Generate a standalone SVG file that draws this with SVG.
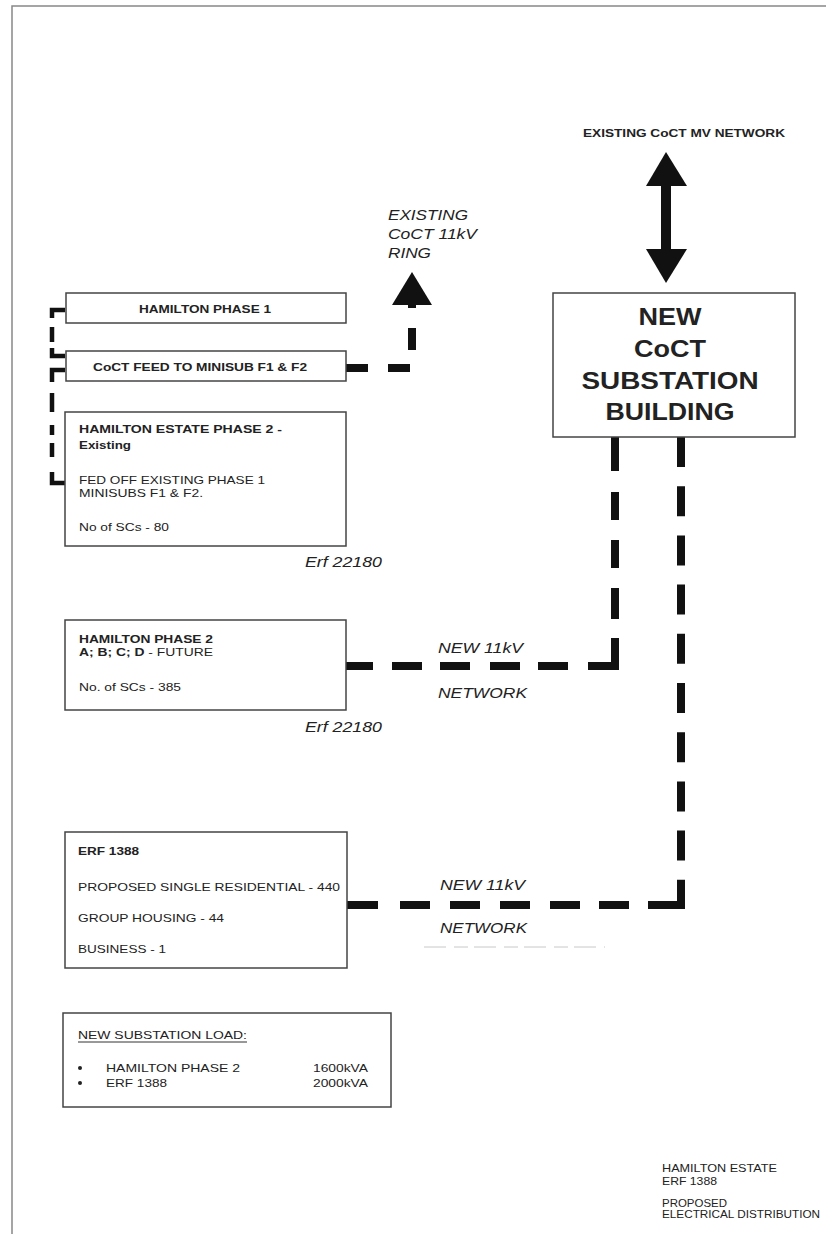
<svg xmlns="http://www.w3.org/2000/svg" width="826" height="1234" viewBox="0 0 826 1234">
<style>
.page{fill:none;stroke:#888;stroke-width:1.5}
.box{fill:#fff;stroke:#444;stroke-width:1.5}
.t{font-family:"Liberation Sans",Arial,sans-serif;fill:#222}
.b{font-weight:bold;font-size:11.5px}
.r{font-size:11.5px}
.i{font-style:italic;font-size:15px}
.big{font-weight:bold;font-size:24px;text-anchor:middle}
.sm{font-size:10.5px}
.thick{fill:none;stroke:#111;stroke-width:8}
.thin{fill:none;stroke:#111;stroke-width:4.5}
.solid{fill:#111}
</style>
<rect width="826" height="1234" fill="#fff"/>
<g id="page-border">
<path class="page" d="M12,1234 V6 H826"/>
</g>
<g id="connectors">
<path class="thin" d="M65,310 H52 V356 H65" stroke-dasharray="21 9 15 6 40"/>
<path class="thin" d="M65,370 H52 V483 H65" stroke-dasharray="25 11 19 13 10 8 14 15 40"/>
<path class="thick" d="M346,368 H412 V305" stroke-dasharray="22 20"/>
<polygon class="solid" points="412,272 392,305 432,305"/>
<polygon class="solid" points="666,152 646,186 687,186"/>
<rect class="solid" x="661" y="185" width="10" height="65"/>
<polygon class="solid" points="646,249 687,249 666,283"/>
<path class="thick" d="M346,666 H619" stroke-dasharray="27 19 30 18 30 20 30 18 30 20 31 100"/>
<path class="thick" d="M615,670 V437" stroke-dasharray="32 19 31 20 28 20 28 21 34 100"/>
<path class="thick" d="M681,437 V909" stroke-dasharray="30 19.2"/>
<path class="thick" d="M346,905 H685" stroke-dasharray="32 22 30 20 30 20 30 20 30 19 30 19 37 100"/>
<path d="M424,947 H605" fill="none" stroke="#c8c8c8" stroke-width="1" stroke-dasharray="22 8 14 6"/>
</g>
<g id="mv-network-label">
<text class="t b" x="583" y="137" font-size="12.5" textLength="202" lengthAdjust="spacingAndGlyphs">EXISTING CoCT MV NETWORK</text>
</g>
<g id="ring-label">
<text class="t i" x="388" y="220" textLength="80" lengthAdjust="spacingAndGlyphs">EXISTING</text>
<text class="t i" x="388" y="239" textLength="89" lengthAdjust="spacingAndGlyphs">CoCT 11kV</text>
<text class="t i" x="388" y="258" textLength="43" lengthAdjust="spacingAndGlyphs">RING</text>
</g>
<g id="substation">
<rect class="box" x="553" y="293" width="242" height="144"/>
<text class="t big" x="670" y="325" textLength="63" lengthAdjust="spacingAndGlyphs">NEW</text>
<text class="t big" x="670" y="357" textLength="72" lengthAdjust="spacingAndGlyphs">CoCT</text>
<text class="t big" x="670" y="389" textLength="177" lengthAdjust="spacingAndGlyphs">SUBSTATION</text>
<text class="t big" x="670" y="420" textLength="129" lengthAdjust="spacingAndGlyphs">BUILDING</text>
</g>
<g id="hamilton-phase-1">
<rect class="box" x="66" y="293" width="280" height="30"/>
<text class="t b" x="139" y="313" textLength="132" lengthAdjust="spacingAndGlyphs">HAMILTON PHASE 1</text>
</g>
<g id="coct-feed">
<rect class="box" x="66" y="351" width="280" height="30"/>
<text class="t b" x="93" y="371" textLength="214" lengthAdjust="spacingAndGlyphs">CoCT FEED TO MINISUB F1 &amp; F2</text>
</g>
<g id="hamilton-estate-phase-2">
<rect class="box" x="65" y="412" width="281" height="134"/>
<text class="t b" x="79" y="433" textLength="203" lengthAdjust="spacingAndGlyphs">HAMILTON ESTATE PHASE 2 -</text>
<text class="t b" x="79" y="449" textLength="52" lengthAdjust="spacingAndGlyphs">Existing</text>
<text class="t r" x="79" y="484" textLength="186" lengthAdjust="spacingAndGlyphs">FED OFF EXISTING PHASE 1</text>
<text class="t r" x="79" y="497" textLength="124" lengthAdjust="spacingAndGlyphs">MINISUBS F1 &amp; F2.</text>
<text class="t r" x="79" y="531" textLength="90" lengthAdjust="spacingAndGlyphs">No of SCs - 80</text>
<text class="t i" x="305" y="567" font-size="14" textLength="77" lengthAdjust="spacingAndGlyphs">Erf 22180</text>
</g>
<g id="hamilton-phase-2">
<rect class="box" x="65" y="620" width="281" height="90"/>
<text class="t b" x="79" y="643" textLength="134" lengthAdjust="spacingAndGlyphs">HAMILTON PHASE 2</text>
<text class="t r" x="79" y="656" textLength="134" lengthAdjust="spacingAndGlyphs"><tspan font-weight="bold">A; B; C; D</tspan> - FUTURE</text>
<text class="t r" x="79" y="691" textLength="102" lengthAdjust="spacingAndGlyphs">No. of SCs - 385</text>
<text class="t i" x="305" y="732" font-size="14" textLength="77" lengthAdjust="spacingAndGlyphs">Erf 22180</text>
</g>
<g id="network-label-1">
<text class="t i" x="438" y="653" textLength="85" lengthAdjust="spacingAndGlyphs">NEW 11kV</text>
<text class="t i" x="438" y="698" textLength="89" lengthAdjust="spacingAndGlyphs">NETWORK</text>
</g>
<g id="erf-1388">
<rect class="box" x="65" y="832" width="282" height="136"/>
<text class="t b" x="78" y="855" textLength="61" lengthAdjust="spacingAndGlyphs">ERF 1388</text>
<text class="t r" x="78" y="891" textLength="262" lengthAdjust="spacingAndGlyphs">PROPOSED SINGLE RESIDENTIAL - 440</text>
<text class="t r" x="78" y="922" textLength="146" lengthAdjust="spacingAndGlyphs">GROUP HOUSING - 44</text>
<text class="t r" x="78" y="953" textLength="88" lengthAdjust="spacingAndGlyphs">BUSINESS - 1</text>
</g>
<g id="network-label-2">
<text class="t i" x="440" y="890" textLength="85" lengthAdjust="spacingAndGlyphs">NEW 11kV</text>
<text class="t i" x="440" y="933" textLength="87" lengthAdjust="spacingAndGlyphs">NETWORK</text>
</g>
<g id="substation-load">
<rect class="box" x="63" y="1013" width="328" height="94"/>
<text class="t r" x="78" y="1039" textLength="169" lengthAdjust="spacingAndGlyphs">NEW SUBSTATION LOAD:</text>
<line x1="78" y1="1042" x2="247" y2="1042" stroke="#333" stroke-width="1"/>
<circle cx="80" cy="1068" r="2" fill="#222"/>
<circle cx="80" cy="1083" r="2" fill="#222"/>
<text class="t r" x="106" y="1072" textLength="134" lengthAdjust="spacingAndGlyphs">HAMILTON PHASE 2</text>
<text class="t r" x="106" y="1087" textLength="61" lengthAdjust="spacingAndGlyphs">ERF 1388</text>
<text class="t r" x="313" y="1072" textLength="55" lengthAdjust="spacingAndGlyphs">1600kVA</text>
<text class="t r" x="313" y="1087" textLength="55" lengthAdjust="spacingAndGlyphs">2000kVA</text>
</g>
<g id="title-block">
<text class="t sm" x="662" y="1172" textLength="115" lengthAdjust="spacingAndGlyphs">HAMILTON ESTATE</text>
<text class="t sm" x="662" y="1185" textLength="55" lengthAdjust="spacingAndGlyphs">ERF 1388</text>
<text class="t sm" x="662" y="1207" textLength="65" lengthAdjust="spacingAndGlyphs">PROPOSED</text>
<text class="t sm" x="662" y="1218" textLength="158" lengthAdjust="spacingAndGlyphs">ELECTRICAL DISTRIBUTION</text>
</g>
</svg>
